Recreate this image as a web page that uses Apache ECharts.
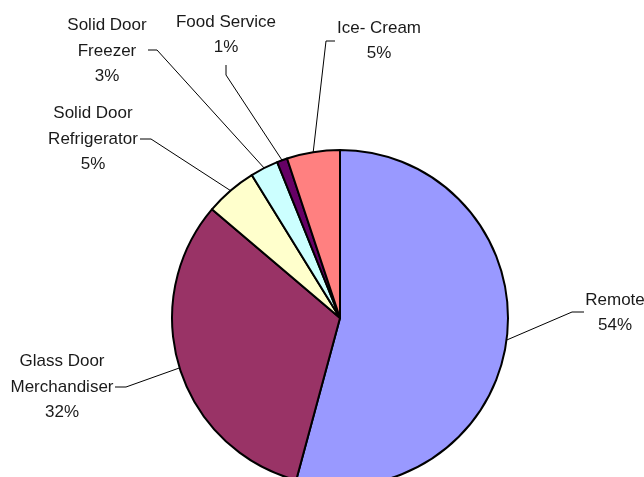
<!DOCTYPE html>
<html lang="en">
<head>
    <meta charset="UTF-8">
    <title>Refrigeration share</title>
    <style>
        html, body {
            margin: 0;
            padding: 0;
            background: #fff;
        }
        #chart {
            width: 644px;
            height: 477px;
        }
    </style>
</head>
<body>
<div id="chart"></div>
<script src="https://cdn.jsdelivr.net/npm/echarts/dist/echarts.min.js"></script>
<script>
    // data (clockwise from 12 o'clock)
    const categories = ['Remote', 'Glass Door\nMerchandiser', 'Solid Door\nRefrigerator', 'Solid Door\nFreezer', 'Food Service', 'Ice- Cream'];
    const shares = [54.2, 32.0, 5.0, 2.7, 1.0, 5.1];
    const colors = ['#9999ff', '#993366', '#ffffcc', '#ccffff', '#660066', '#ff8080'];

    // where each label sits (text centre) and where its leader line bends
    const labelCenter = [[615, 313], [62, 387], [93, 139], [107, 51], [226, 35], [379, 41]];
    const leaderEnd = [[584, 312], [115, 387], [140, 139], [148, 50], [226, 65], [335, 41]];
    const leaderBend = [[572, 312], [126, 387], [151, 139], [157, 50], [226, 75], [326, 41]];

    let myChart = echarts.init(document.getElementById('chart'), null, {renderer: 'canvas'});

    let pieData = [];
    categories.forEach((name, i) => {
        pieData.push({
            name: name,
            value: shares[i],
            itemStyle: {color: colors[i]}
        });
    });

    let option = {
        animation: false,
        backgroundColor: '#fff',
        series: [
            {
                type: 'pie',
                center: [340, 318],
                radius: 168,
                startAngle: 90,
                clockwise: true,
                avoidLabelOverlap: false,
                data: pieData,
                itemStyle: {
                    borderColor: '#000',
                    borderWidth: 2
                },
                label: {
                    show: true,
                    position: 'outside',
                    // no narrow face installed, so a smaller regular one keeps the widths close
                    fontFamily: '"Liberation Sans Narrow", "Arial Narrow", "Liberation Sans", Arial, sans-serif',
                    fontSize: 17,
                    lineHeight: 25.5,
                    color: '#1a1a1a',
                    align: 'center',
                    formatter: function (p) {
                        return p.name + '\n' + Math.round(p.percent) + '%';
                    }
                },
                labelLine: {
                    show: true,
                    length: 10,
                    length2: 10,
                    lineStyle: {color: '#000', width: 1}
                },
                emphasis: {disabled: true},
                labelLayout: function (params) {
                    let i = params.dataIndex;
                    let start = params.labelLinePoints ? params.labelLinePoints[0] : leaderBend[i];
                    return {
                        x: labelCenter[i][0],
                        y: labelCenter[i][1],
                        align: 'center',
                        verticalAlign: 'middle',
                        labelLinePoints: [start, leaderBend[i], leaderEnd[i]]
                    };
                }
            }
        ]
    };

    myChart.setOption(option);
</script>
</body>
</html>
